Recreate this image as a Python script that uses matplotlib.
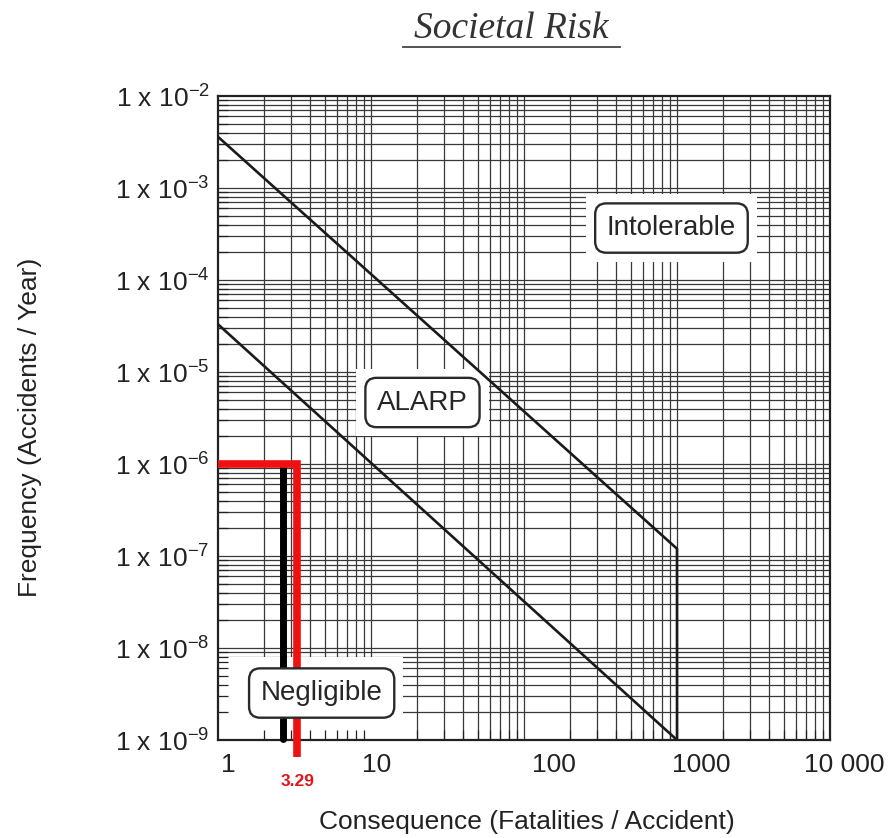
import numpy as np
import matplotlib
matplotlib.use("Agg")
import matplotlib.pyplot as plt
from matplotlib.ticker import LogLocator, NullFormatter
from matplotlib.patches import Rectangle
from matplotlib.lines import Line2D
import matplotlib.transforms as mtransforms

plt.rcParams['font.family'] = ['Liberation Sans', 'DejaVu Sans']
plt.rcParams['mathtext.fontset'] = 'custom'
plt.rcParams['mathtext.rm'] = 'Liberation Sans'
plt.rcParams['mathtext.it'] = 'Liberation Sans:italic'
plt.rcParams['mathtext.bf'] = 'Liberation Sans:bold'

# criteria lines (N in fatalities, F in accidents / year)
upper_N = [1, 1000, 1000]
upper_F = [3.6e-3, 1.2e-7, 1e-9]
lower_N = [1, 1000]
lower_F = [3.3e-5, 1e-9]

# marked case
mark_N = 3.29
mark_F = 1e-6
mark_drop_F = 6.5e-10     # red line runs a little past the x axis
black_N = 2.65
black_F = [9.3e-7, 1.02e-9]

# axis ticks
x_ticks = [1, 10, 100, 1000, 10000]
x_labels = ['1', '10', '100', '1000', '10 000']
x_label_shift = [10, 6, 30, 24, 14]   # scanned labels sit a bit right of ticks
y_exp = [-2, -3, -4, -5, -6, -7, -8, -9]

# region labels
zones = ['Intolerable', 'ALARP', 'Negligible']
zone_N = [920, 21.7, 4.76]
zone_F = [3.67e-4, 4.66e-6, 3.24e-9]

fig = plt.figure(figsize=(8.96, 8.38), dpi=100)
ax = fig.add_axes([218/896, 98/838, 612/896, 644/838])
ax.set_xscale('log')
ax.set_yscale('log')
ax.set_xlim(1, 10000)
ax.set_ylim(1e-9, 1e-2)

ax.set_xticks(x_ticks)
ax.set_xticklabels(x_labels)
yt = [10.0**e for e in y_exp]
ax.set_yticks(yt)
ax.set_yticklabels([r'1 x 10$^{\mathregular{%d}}$' % e for e in y_exp])
ax.xaxis.set_minor_locator(LogLocator(base=10, subs=np.arange(2, 10), numticks=100))
ax.yaxis.set_minor_locator(LogLocator(base=10, subs=np.arange(2, 10), numticks=100))
ax.xaxis.set_minor_formatter(NullFormatter())
ax.yaxis.set_minor_formatter(NullFormatter())
ax.tick_params(which='both', direction='in', labelsize=19, colors='#222222')
ax.tick_params(which='major', length=0)
ax.tick_params(which='minor', length=7, width=0.9)
ax.tick_params(axis='x', pad=9)
ax.tick_params(axis='y', pad=6)
for lab, dx in zip(ax.get_xticklabels(), x_label_shift):
    lab.set_transform(lab.get_transform() + mtransforms.ScaledTranslation(dx/100, 0, fig.dpi_scale_trans))

# grid drawn by hand so the label boxes can clear it
gcol = '#383838'
for v in list(ax.get_xticks()) + list(ax.xaxis.get_minorticklocs()):
    if 1 < v < 10000:
        ax.axvline(v, color=gcol, lw=0.9, zorder=0.8)
for v in list(ax.get_yticks()) + list(ax.yaxis.get_minorticklocs()):
    if 1e-9 < v < 1e-2:
        ax.axhline(v, color=gcol, lw=0.9, zorder=0.8)

for s in ax.spines.values():
    s.set_linewidth(1.6)
    s.set_color('#222222')

# cleared area in the negligible corner
ax.add_patch(Rectangle((1, 1e-9), 15.2, 7e-9, facecolor='white', edgecolor='none', zorder=1))

# criteria lines
ax.plot(upper_N, upper_F, color='#1a1a1a', lw=1.9, zorder=3)
ax.plot(lower_N, lower_F, color='#1a1a1a', lw=1.9, zorder=3)

# black bar and red marker
ax.plot([black_N, black_N], black_F, color='black', lw=5, solid_capstyle='round',
        zorder=3, clip_on=False)
ax.plot([1, mark_N, mark_N], [mark_F, mark_F, mark_drop_F], color='#f01010', lw=5.5,
        zorder=3.5, solid_capstyle='butt', solid_joinstyle='miter', clip_on=False)
trans = mtransforms.blended_transform_factory(ax.transData, ax.transAxes)
ax.annotate('%.2f' % mark_N, xy=(mark_N, 0), xycoords=trans, xytext=(0, -30),
            textcoords='offset points', ha='center', va='center',
            color='#e8141c', fontsize=12.5, fontweight='bold')

# region labels with white margin around them
for name, n, f in zip(zones, zone_N, zone_F):
    ax.text(n, f, name, fontsize=20, color='none', ha='center', va='center', zorder=1,
            bbox=dict(boxstyle='square,pad=0.75', fc='white', ec='none'))
    ax.text(n, f, name, fontsize=20, color='#262626', ha='center', va='center', zorder=5,
            bbox=dict(boxstyle='round,pad=0.42,rounding_size=0.4', fc='white',
                      ec='#2a2a2a', lw=1.7))

# titles and axis labels
fig.text(511/896, 1 - 29/838, 'Societal Risk', fontsize=27, style='italic',
         family=['Liberation Serif', 'DejaVu Serif'], color='#333333',
         ha='center', va='center')
fig.add_artist(Line2D([403/896, 620/896], [1 - 47/838, 1 - 47/838],
                      color='#444444', lw=1.3))
fig.text(527/896, 1 - 822/838, 'Consequence (Fatalities / Accident)', fontsize=19,
         color='#222222', ha='center', va='center')
fig.text(30/896, 1 - 427/838, 'Frequency (Accidents / Year)', fontsize=19,
         color='#222222', ha='center', va='center', rotation=90)

fig.savefig('out.png', dpi=100)
